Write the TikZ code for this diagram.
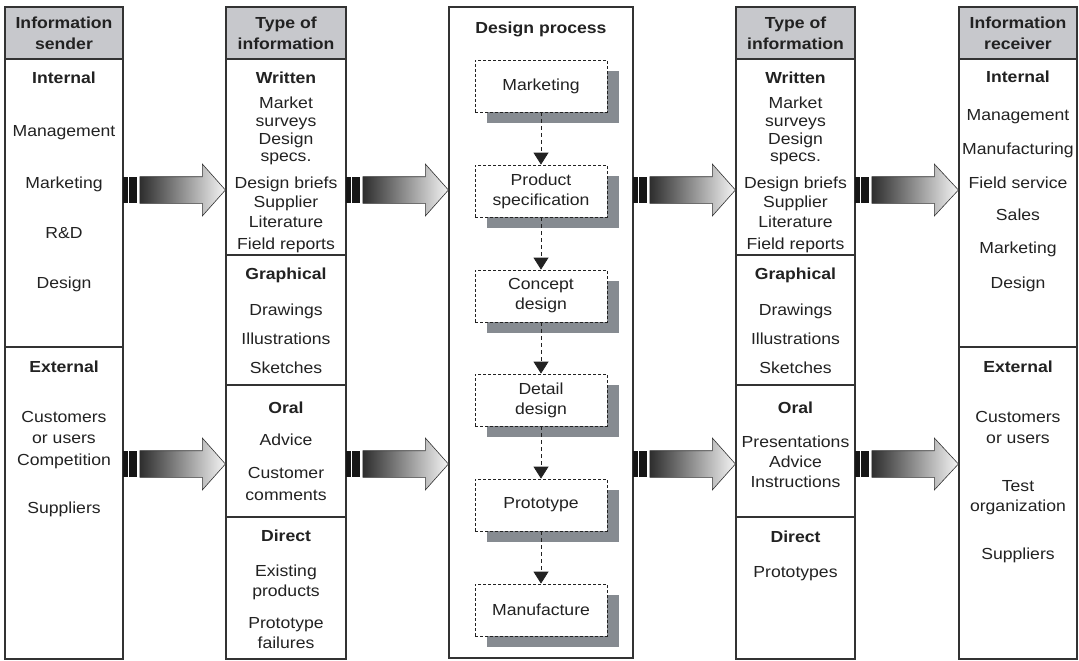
\documentclass[tikz,border=0pt]{standalone}
\usepackage{fontspec}
\setmainfont[FakeStretch=1.1]{Liberation Sans}
\usetikzlibrary{arrows.meta,calc,shadows}
\definecolor{ink}{HTML}{222222}
\definecolor{frame}{HTML}{333333}
\definecolor{hdrfill}{HTML}{C7C8CC}
\definecolor{shadowc}{HTML}{868B91}
\definecolor{bark}{HTML}{161616}
\definecolor{arrL}{HTML}{2E2E2E}
\definecolor{arrR}{HTML}{F4F4F4}
\tikzset{
  colbox/.style={draw=frame, line width=1.2pt, fill=white, inner sep=0pt},
  hdr/.style={draw=frame, line width=1.2pt, fill=hdrfill, text=ink, align=center, inner sep=0pt,
    font=\bfseries\fontsize{16}{21}\selectfont},
  itm/.style={text=ink, align=center, inner sep=0pt, anchor=base, font=\fontsize{16}{20}\selectfont},
  divline/.style={draw=frame, line width=1.2pt},
  procbox/.style={draw=ink, line width=0.8pt, dash pattern=on 3pt off 2pt, fill=white, align=center,
    text=ink, minimum width=132pt, minimum height=52pt, inner sep=0pt, font=\fontsize{16}{20}\selectfont,
    drop shadow={shadow xshift=12pt, shadow yshift=-11pt, opacity=1, fill=shadowc, draw=none}},
  flowline/.style={draw=ink, line width=0.8pt, dash pattern=on 4pt off 3pt, -{Triangle[length=12pt,width=15pt]}},
  blockarr/.style={draw=frame, line width=0.6pt, left color=arrL, right color=arrR},
  barfill/.style={fill=bark},
}
\newcommand\colitems[3]{%
  \foreach \yy/\tx in {#3} {\node[itm] (#1-\yy) at (#2,\yy+6) {\tx};}%
}
\newcommand\blockarrow[3]{%
  \coordinate (yref) at (0,#3);
  \begin{scope}[shift={(#1.east |- yref)}]
    \fill[barfill] (-0.8,-13.3) rectangle (4.3,13.3);
    \fill[barfill] (5.7,-13.3) rectangle (13.7,13.3);
    \shade[blockarr] (16.3,-13.3) -- (78.7,-13.3) -- (78.7,-26) -- (#2.west |- yref)
      -- (78.7,26) -- (78.7,13.3) -- (16.3,13.3) -- cycle;
  \end{scope}
}
\begin{document}
\begin{tikzpicture}[x=1pt,y=-1pt]
\useasboundingbox (0,0) rectangle (1079,661);
% columns
\node[colbox, minimum width=118pt, minimum height=652pt] (c1) at (64,333) {};
\node[colbox, minimum width=120pt, minimum height=652pt] (c2) at (286,333) {};
\node[colbox, minimum width=184pt, minimum height=651pt] (c3) at (541,332.5) {};
\node[colbox, minimum width=119pt, minimum height=652pt] (c4) at (795.5,333) {};
\node[colbox, minimum width=118pt, minimum height=652pt] (c5) at (1018,333) {};
% headers
\node[hdr, minimum width=118pt, minimum height=52pt] (h1) at (64,33) {Information\\sender};
\node[hdr, minimum width=120pt, minimum height=52pt] (h2) at (286,33) {Type of\\information};
\node[hdr, minimum width=119pt, minimum height=52pt] (h4) at (795.5,33) {Type of\\information};
\node[hdr, minimum width=118pt, minimum height=52pt] (h5) at (1018,33) {Information\\receiver};
% dividers
\draw[divline] (c1.west |- 0,347) -- (c1.east |- 0,347);
\draw[divline] (c5.west |- 0,347) -- (c5.east |- 0,347);
\foreach \yy in {255,385,517} {
  \draw[divline] (c2.west |- 0,\yy) -- (c2.east |- 0,\yy);
  \draw[divline] (c4.west |- 0,\yy) -- (c4.east |- 0,\yy);
}
% column texts
\colitems{t1}{64}{78/\textbf{Internal}, 130/Management, 182/Marketing, 232/R\&D, 282/Design,
  366/\textbf{External}, 416/Customers, 437/or users, 459/Competition, 507/Suppliers}
\colitems{t2}{286}{78/\textbf{Written}, 102/Market, 120/surveys, 138/Design, 155/specs., 182/Design briefs,
  201/Supplier, 221/Literature, 243/Field reports, 273/\textbf{Graphical}, 309/Drawings, 338/Illustrations,
  367/Sketches, 407/\textbf{Oral}, 439/Advice, 472/Customer, 494/comments, 535/\textbf{Direct},
  570/Existing, 590/products, 622/Prototype, 642/failures}
\colitems{t4}{795.5}{78/\textbf{Written}, 102/Market, 120/surveys, 138/Design, 155/specs., 182/Design briefs,
  201/Supplier, 221/Literature, 243/Field reports, 273/\textbf{Graphical}, 309/Drawings, 338/Illustrations,
  367/Sketches, 407/\textbf{Oral}, 441/Presentations, 461/Advice, 481/Instructions, 536/\textbf{Direct},
  571/Prototypes}
\colitems{t5}{1018}{76/\textbf{Internal}, 115/Management, 148/Manufacturing, 182/Field service, 214/Sales,
  247/Marketing, 282/Design, 366/\textbf{External}, 416/Customers, 437/or users, 485/Test,
  505/organization, 553/Suppliers}
% design process
\node[itm] (dp) at (541,34) {\textbf{Design process}};
\node[procbox] (p1) at (541,86) {Marketing};
\node[procbox] (p2) at (541,191) {Product\\specification};
\node[procbox] (p3) at (541,296) {Concept\\design};
\node[procbox] (p4) at (541,400) {Detail\\design};
\node[procbox] (p5) at (541,505) {Prototype};
\node[procbox] (p6) at (541,610) {Manufacture};
\foreach \a/\b in {p1/p2,p2/p3,p3/p4,p4/p5,p5/p6} {\draw[flowline] (\a.south) -- (\b.north);}
% block arrows
\blockarrow{c1}{c2}{190}
\blockarrow{c2}{c3}{190}
\blockarrow{c3}{c4}{190}
\blockarrow{c4}{c5}{190}
\blockarrow{c1}{c2}{464}
\blockarrow{c2}{c3}{464}
\blockarrow{c3}{c4}{464}
\blockarrow{c4}{c5}{464}
\end{tikzpicture}
\end{document}
